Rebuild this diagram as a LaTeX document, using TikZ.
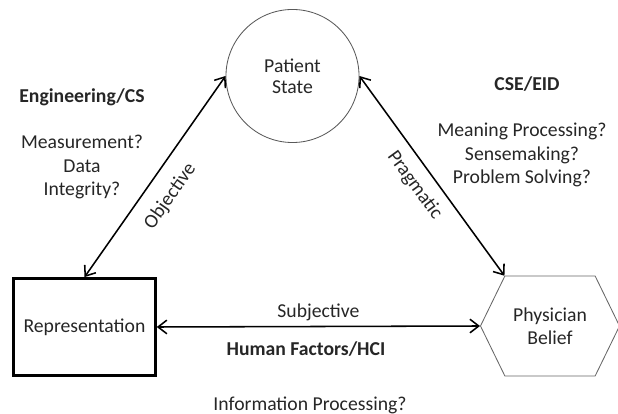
\documentclass[tikz,border=0pt]{standalone}
\usepackage{fontspec}
\setmainfont{Carlito}
\usepackage{tikz}
\usetikzlibrary{arrows.meta,shapes.symbols}

\begin{document}
\begin{tikzpicture}[x=0.025cm, y=0.025cm,
        every node/.style={text=black!85, font=\fontsize{14}{16}\selectfont},
        round/.style={circle, draw=black!65, line width=0.6pt,
          minimum size=3.325cm, align=center, font=\fontsize{14}{15}\selectfont},
        box/.style={draw, line width=1.8pt, minimum width=3.55cm,
          minimum height=2.43cm},
        hex/.style={signal, signal to=west and east, signal pointer angle=128,
          draw=black!60, line width=0.6pt, minimum width=3.475cm,
          minimum height=2.5cm, align=center},
        head/.style={font=\fontsize{14}{16}\selectfont\bfseries},
        note/.style={align=center, font=\fontsize{14}{17}\selectfont},
        link/.style={<->, line width=1.1pt},
        >={Straight Barb[length=2.2mm,width=3.4mm]}]
      \useasboundingbox (0,0) rectangle (618,414);
      \node (state) at (292.5,338) [round] {Patient\\State};
      \node (rep) at (84.5,87) [box] {Representation};
      \node (belief) at (550,88) [hex] {Physician\\Belief};
      \node (eng) at (82,317) [head] {Engineering/CS};
      \node (engq) at (82,247) [note] {Measurement?\\Data\\Integrity?};
      \node (cse) at (527,330) [head] {CSE/EID};
      \node (cseq) at (522,259) [note] {Meaning Processing?\\Sensemaking?\\Problem Solving?};
      \node (hf) at (306,65) [head] {Human Factors/HCI};
      \node (hfq) at (310,9) [note] {Information Processing?};
      \draw[link] (rep.north) -- node (obj) [pos=0.47, sloped, below=7pt] {Objective} (state.west);
      \draw[link] (state.east) -- node (prag) [pos=0.49, sloped, below=4pt] {Pragmatic} (belief.north west);
      \draw[link] (rep.east) -- node (subj) [above] {Subjective} (belief.west);
    \end{tikzpicture}
\end{document}
